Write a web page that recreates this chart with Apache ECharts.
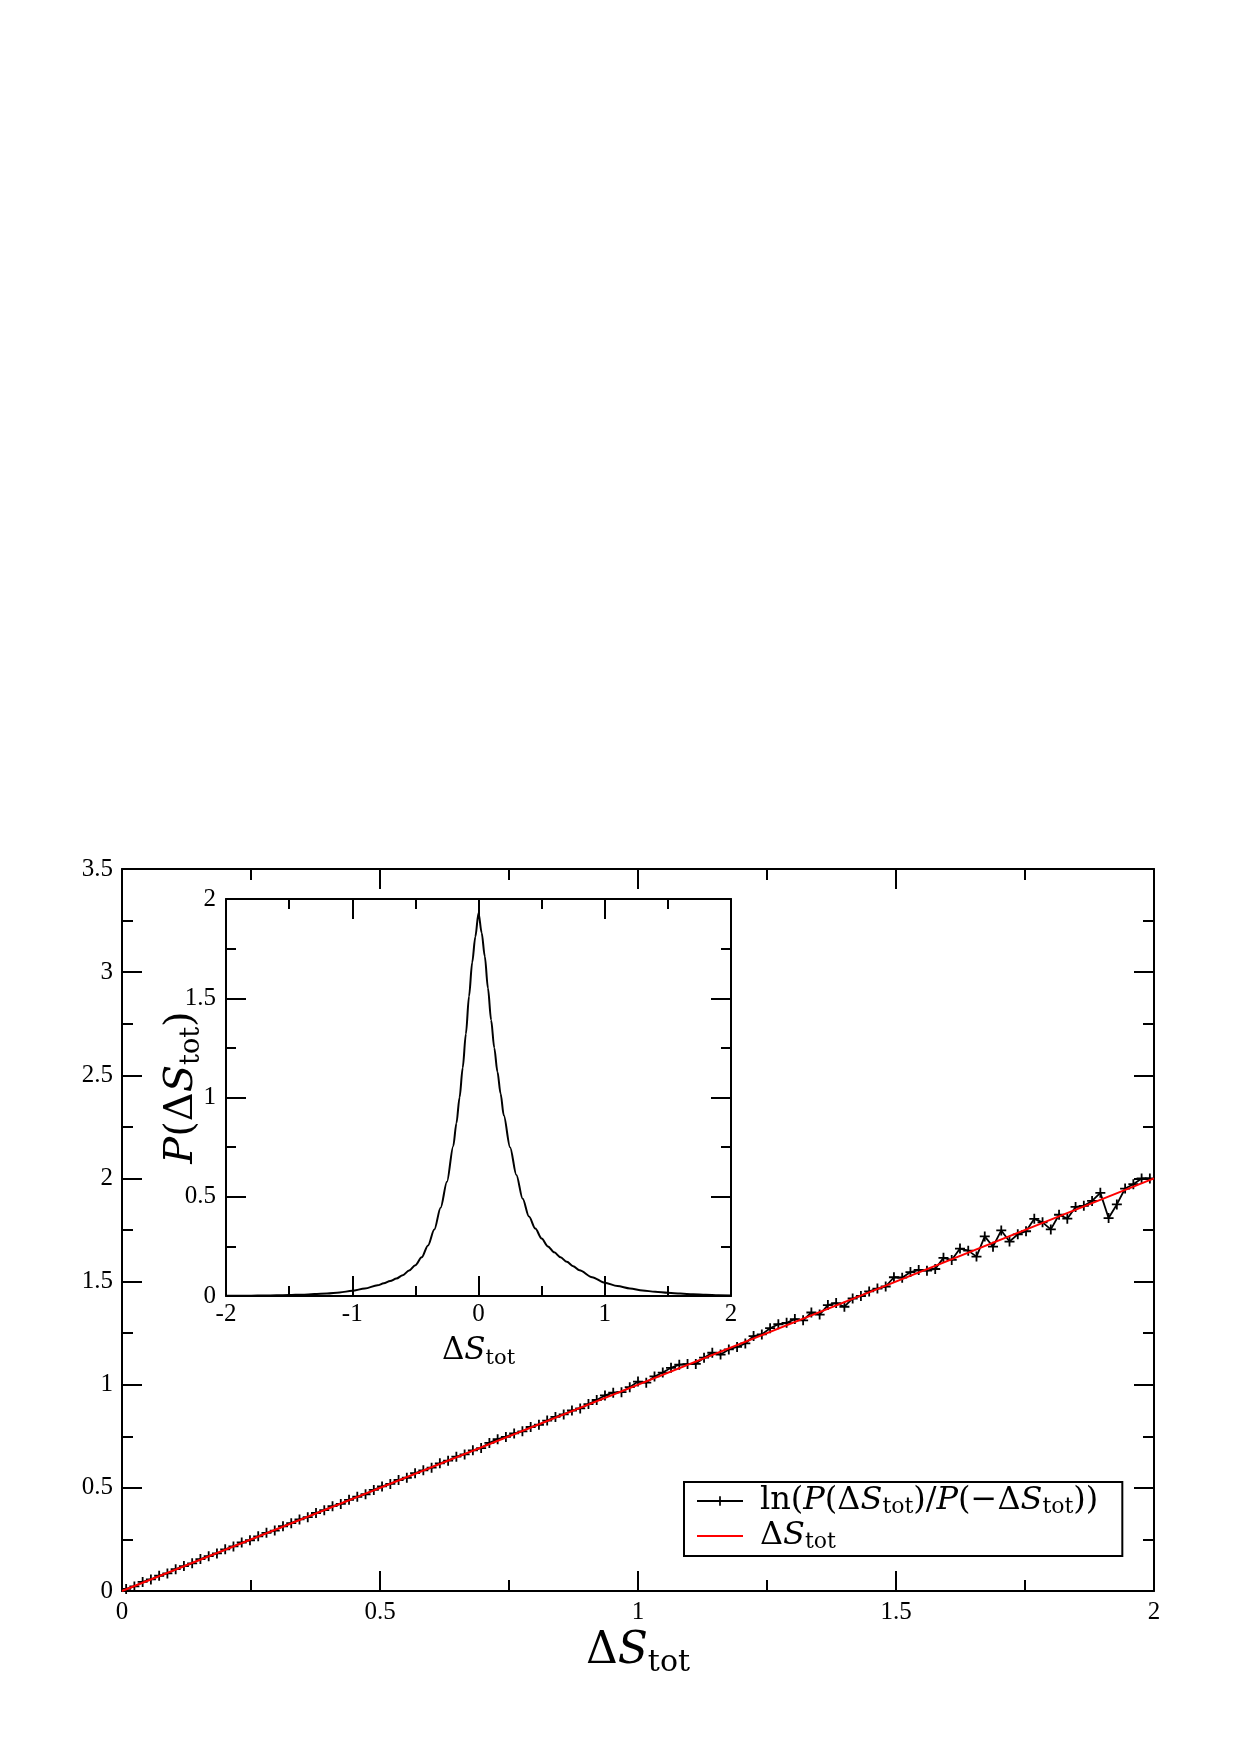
<!DOCTYPE html>
<html>
<head>
<meta charset="utf-8">
<script src="https://cdn.jsdelivr.net/npm/echarts@6/dist/echarts.min.js"></script>
<style>
html,body{margin:0;padding:0;background:#fff;}
#chart{width:1240px;height:1754px;}
</style>
</head>
<body>
<div id="chart"></div>
<script>
// ---------- main panel: ln(P(ΔS)/P(-ΔS)) vs ΔS ----------
const mainX = [0.008,0.024,0.040,0.056,0.072,0.088,0.104,0.120,0.136,0.152,0.168,0.184,0.200,0.216,0.232,0.248,0.264,0.280,0.296,0.312,0.328,0.344,0.360,0.376,0.392,0.408,0.424,0.440,0.456,0.472,0.488,0.504,0.520,0.536,0.552,0.568,0.584,0.600,0.616,0.632,0.648,0.664,0.680,0.696,0.712,0.728,0.744,0.760,0.776,0.792,0.808,0.824,0.840,0.856,0.872,0.888,0.904,0.920,0.936,0.952,0.968,0.984,1.000,1.016,1.032,1.048,1.064,1.080,1.096,1.112,1.128,1.144,1.160,1.176,1.192,1.208,1.224,1.240,1.256,1.272,1.288,1.304,1.320,1.336,1.352,1.368,1.384,1.400,1.416,1.432,1.448,1.464,1.480,1.496,1.512,1.528,1.544,1.560,1.576,1.592,1.608,1.624,1.640,1.656,1.672,1.688,1.704,1.720,1.736,1.752,1.768,1.784,1.800,1.816,1.832,1.848,1.864,1.880,1.896,1.912,1.928,1.944,1.960,1.976,1.992];
const mainY = [0.010,0.022,0.044,0.056,0.074,0.085,0.106,0.121,0.134,0.155,0.169,0.182,0.202,0.216,0.235,0.246,0.265,0.282,0.293,0.314,0.329,0.347,0.358,0.378,0.392,0.411,0.422,0.442,0.457,0.469,0.490,0.507,0.519,0.538,0.549,0.571,0.585,0.598,0.619,0.632,0.651,0.662,0.682,0.693,0.718,0.736,0.747,0.764,0.774,0.795,0.806,0.826,0.844,0.856,0.875,0.885,0.906,0.926,0.948,0.961,0.964,0.988,1.015,1.010,1.040,1.059,1.082,1.097,1.100,1.101,1.131,1.155,1.146,1.171,1.183,1.200,1.236,1.244,1.274,1.293,1.300,1.318,1.312,1.350,1.340,1.386,1.396,1.378,1.418,1.430,1.452,1.466,1.476,1.521,1.519,1.546,1.556,1.553,1.561,1.615,1.605,1.660,1.650,1.621,1.719,1.669,1.748,1.694,1.729,1.744,1.804,1.787,1.753,1.824,1.805,1.862,1.867,1.891,1.930,1.808,1.874,1.951,1.972,2.000,2.000];
const refX = [0, 2];
const refY = [0, 2];

// ---------- inset: P(ΔS) ----------
const insetX = [-2.0,-1.9,-1.8,-1.7,-1.6,-1.5,-1.4,-1.3,-1.2,-1.1,-1.0,-0.9,-0.8,-0.75,-0.7,-0.65,-0.6,-0.55,-0.5,-0.45,-0.4,-0.35,-0.3,-0.25,-0.2,-0.175,-0.15,-0.125,-0.1,-0.075,-0.05,-0.025,0,0.025,0.05,0.075,0.1,0.125,0.15,0.175,0.2,0.25,0.3,0.35,0.4,0.45,0.5,0.55,0.6,0.65,0.7,0.75,0.8,0.9,1.0,1.1,1.2,1.3,1.4,1.5,1.6,1.7,1.8,1.9,2.0];
const insetY = [0.0008,0.0012,0.0017,0.0024,0.0034,0.0048,0.0068,0.0095,0.013,0.018,0.026,0.038,0.054,0.064,0.075,0.088,0.105,0.128,0.155,0.195,0.255,0.335,0.445,0.575,0.755,0.870,1.000,1.150,1.320,1.510,1.680,1.810,1.930,1.830,1.710,1.550,1.390,1.250,1.130,1.020,0.910,0.750,0.610,0.490,0.400,0.340,0.290,0.250,0.220,0.195,0.172,0.150,0.130,0.095,0.067,0.050,0.038,0.028,0.021,0.016,0.012,0.009,0.006,0.004,0.003];

const seriesNames = ['ln(P(ΔStot)/P(−ΔStot))', 'ΔStot'];

const FONT = '"Liberation Serif", "DejaVu Serif", serif';
const MATH = '"DejaVu Serif", "Liberation Serif", serif';
function richSet(big, small, lh, slh) {
  return {
    n: {fontFamily: MATH, fontSize: big, color: '#000', lineHeight: lh},
    i: {fontFamily: MATH, fontSize: big, fontStyle: 'italic', color: '#000', lineHeight: lh},
    s: {fontFamily: MATH, fontSize: small, color: '#000', lineHeight: slh, verticalAlign: 'bottom'},
    g: {fontFamily: MATH, fontSize: 10, width: 12, lineHeight: lh}
  };
}
const richBig = richSet(44, 30, 52, 34);
const richInsetX = richSet(31, 21, 36, 24);
const richInsetY = richSet(40, 27, 46, 30);
const richLeg = richSet(32, 22, 34, 24);

const tickCommon = (len, minorLen, split) => ({
  axisLine: {show: true, onZero: false, lineStyle: {color: '#000', width: 2}},
  axisTick: {show: true, inside: true, length: len, lineStyle: {color: '#000', width: 2}},
  minorTick: {show: true, splitNumber: split, length: minorLen, lineStyle: {color: '#000', width: 2}},
  splitLine: {show: false},
  minorSplitLine: {show: false}
});
const labelStyle = (margin) => ({
  show: true, margin: margin, color: '#000', fontFamily: FONT, fontSize: 25,
  showMinLabel: true, showMaxLabel: true
});

const chart = echarts.init(document.getElementById('chart'), null, {renderer: 'canvas'});
chart.setOption({
  backgroundColor: '#fff',
  animation: false,
  grid: [
    {left: 122, top: 869, width: 1032, height: 722, show: false},
    {left: 226, top: 899, width: 505, height: 397, show: true, backgroundColor: '#fff', borderWidth: 0, z: 5}
  ],
  xAxis: [
    Object.assign({gridIndex: 0, type: 'value', min: 0, max: 2, interval: 0.5, position: 'bottom',
      axisLabel: labelStyle(9),
      name: '{n|Δ}{i|S}{s|tot}', nameLocation: 'middle', nameGap: 35,
      nameTextStyle: {rich: richBig}}, tickCommon(20, 11, 2)),
    Object.assign({gridIndex: 0, type: 'value', min: 0, max: 2, interval: 0.5, position: 'top',
      axisLabel: {show: false}}, tickCommon(20, 11, 2)),
    Object.assign({gridIndex: 1, type: 'value', min: -2, max: 2, interval: 1, position: 'bottom',
      axisLabel: labelStyle(6),
      name: '{n|Δ}{i|S}{s|tot}', nameLocation: 'middle', nameGap: 37,
      nameTextStyle: {rich: richInsetX}, z: 6}, tickCommon(20, 10, 2)),
    Object.assign({gridIndex: 1, type: 'value', min: -2, max: 2, interval: 1, position: 'top',
      axisLabel: {show: false}, z: 6}, tickCommon(20, 10, 2))
  ],
  yAxis: [
    Object.assign({gridIndex: 0, type: 'value', min: 0, max: 3.5, interval: 0.5, position: 'left',
      axisLabel: labelStyle(9)}, tickCommon(20, 11, 2)),
    Object.assign({gridIndex: 0, type: 'value', min: 0, max: 3.5, interval: 0.5, position: 'right',
      axisLabel: {show: false}}, tickCommon(20, 11, 2)),
    Object.assign({gridIndex: 1, type: 'value', min: 0, max: 2, interval: 0.5, position: 'left',
      axisLabel: labelStyle(10),
      name: '{i|P}{n|(Δ}{i|S}{s|tot}{n|)}', nameLocation: 'middle', nameGap: 21,
      nameMoveOverlap: false,
      nameTextStyle: {rich: richInsetY, padding: [0, 0, 0, 20]}, z: 6}, tickCommon(20, 10, 2)),
    Object.assign({gridIndex: 1, type: 'value', min: 0, max: 2, interval: 0.5, position: 'right',
      axisLabel: {show: false}, z: 6}, tickCommon(20, 10, 2))
  ],
  legend: {
    show: true,
    orient: 'vertical',
    left: 684, top: 1482,
    backgroundColor: '#fff',
    borderColor: '#000', borderWidth: 2, borderRadius: 0,
    padding: [3, 24, 3, 12],
    itemGap: 2,
    itemWidth: 46, itemHeight: 12,
    data: [{name: seriesNames[0]}, {name: seriesNames[1], itemStyle: {opacity: 0}}],
    textStyle: {rich: richLeg},
    formatter: function (name) {
      if (name === seriesNames[0]) {
        return '{g| }{n|ln(}{i|P}{n|(Δ}{i|S}{s|tot}{n|)/}{i|P}{n|(−Δ}{i|S}{s|tot}{n|))}';
      }
      return '{g| }{n|Δ}{i|S}{s|tot}';
    }
  },
  series: [
    {
      name: seriesNames[0], type: 'line', xAxisIndex: 0, yAxisIndex: 0,
      data: mainX.map((x, i) => [x, mainY[i]]),
      symbol: 'path://M-0.9,-5H0.9V-0.9H5V0.9H0.9V5H-0.9V0.9H-5V-0.9H-0.9Z',
      symbolSize: 10, showSymbol: true,
      itemStyle: {color: '#000'},
      lineStyle: {color: '#000', width: 1.8},
      z: 2
    },
    {
      name: seriesNames[1], type: 'line', xAxisIndex: 0, yAxisIndex: 0,
      data: refX.map((x, i) => [x, refY[i]]),
      symbol: 'none', showSymbol: false,
      itemStyle: {color: '#ff0000'},
      lineStyle: {color: '#ff0000', width: 2},
      z: 3
    },
    {
      name: 'inset', type: 'line', xAxisIndex: 2, yAxisIndex: 2,
      data: insetX.map((x, i) => [x, insetY[i]]),
      symbol: 'none', showSymbol: false,
      smooth: 0.3, smoothMonotone: 'x',
      lineStyle: {color: '#000', width: 2},
      itemStyle: {color: '#000'},
      z: 6
    }
  ]
});
</script>
</body>
</html>
